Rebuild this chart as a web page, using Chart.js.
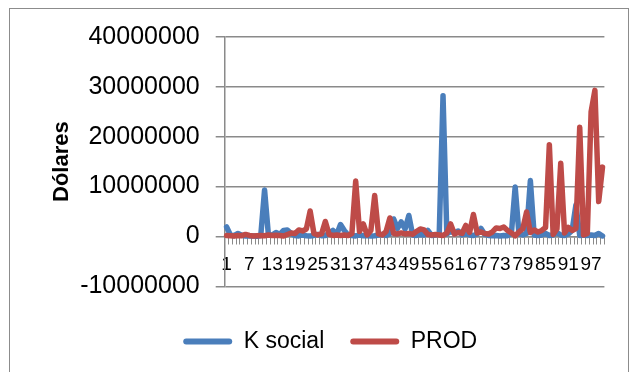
<!DOCTYPE html>
<html>
<head>
<meta charset="utf-8">
<script src="https://cdn.jsdelivr.net/npm/chart.js@4/dist/chart.umd.min.js"></script>
<style>
  html, body { margin: 0; padding: 0; background: #fff; }
  #wrap { position: relative; width: 638px; height: 372px; overflow: hidden; }
  #frame { position: absolute; left: 9px; top: 8px; width: 620px; height: 420px;
           border: 1px solid #8c8c8c; box-sizing: border-box; }
  canvas { position: absolute; left: 0; top: 0; }
</style>
</head>
<body>
<div id="wrap">
  <div id="frame"></div>
  <canvas id="c" width="638" height="372"></canvas>
</div>
<script>
// Observation numbers along the horizontal axis
const categories = [
  1, 2, 3, 4, 5, 6, 7, 8, 9, 10, 11, 12, 13, 14, 15, 16, 17, 18, 19, 20,
  21, 22, 23, 24, 25, 26, 27, 28, 29, 30, 31, 32, 33, 34, 35, 36, 37, 38, 39, 40,
  41, 42, 43, 44, 45, 46, 47, 48, 49, 50, 51, 52, 53, 54, 55, 56, 57, 58, 59, 60,
  61, 62, 63, 64, 65, 66, 67, 68, 69, 70, 71, 72, 73, 74, 75, 76, 77, 78, 79, 80,
  81, 82, 83, 84, 85, 86, 87, 88, 89, 90, 91, 92, 93, 94, 95, 96, 97, 98, 99, 100
];

// Category labels printed under the axis
const tickLabels = [1, 7, 13, 19, 25, 31, 37, 43, 49, 55, 61, 67, 73, 79, 85, 91, 97];

// Value axis ticks (dólares)
const yTicks = [-10000000, 0, 10000000, 20000000, 30000000, 40000000];

// K social, in dólares
const kSocial = [
  1900000, 300000, 150000, 600000, 250000, 100000, 150000, 100000, 50000, 200000,
  9300000, 400000, 300000, 800000, 400000, 1200000, 1300000, 600000, 200000, 100000,
  300000, 150000, 100000, 200000, 400000, 150000, 200000, 600000, 1200000, 400000,
  2400000, 1200000, 300000, 200000, 100000, 300000, 150000, 200000, 100000, 150000,
  300000, 400000, 200000, 600000, 3500000, 1600000, 2900000, 1500000, 4200000, 300000,
  200000, 400000, 300000, 1200000, 200000, 300000, 500000, 28200000, 500000, 1000000,
  700000, 1100000, 300000, 500000, 300000, 200000, 500000, 1600000, 400000, 200000,
  150000, 200000, 100000, 200000, 150000, 600000, 9900000, 500000, 300000, 600000,
  11200000, 300000, 200000, 300000, 600000, 200000, 300000, 800000, 300000, 200000,
  500000, 1200000, 6300000, 200000, 300000, 200000, 300000, 200000, 600000, 100000
];

// PROD, in dólares
const prod = [
  200000, 150000, 100000, 200000, 150000, 400000, 200000, 100000, 150000, 200000,
  150000, 300000, 200000, 250000, 200000, 100000, 400000, 700000, 600000, 1300000,
  1100000, 1500000, 5100000, 600000, 300000, 500000, 3000000, 400000, 200000, 300000,
  200000, 300000, 200000, 600000, 11100000, 1000000, 2500000, 300000, 1200000, 8200000,
  500000, 300000, 1000000, 3700000, 600000, 500000, 700000, 500000, 600000, 400000,
  1000000, 1500000, 1300000, 400000, 300000, 400000, 300000, 200000, 700000, 2500000,
  500000, 800000, 600000, 2200000, 800000, 4400000, 700000, 900000, 600000, 500000,
  900000, 1700000, 1600000, 1900000, 1200000, 700000, 100000, 900000, 1500000, 4900000,
  800000, 1300000, 900000, 1200000, 1800000, 18400000, 400000, 1500000, 14700000, 700000,
  1800000, 1200000, 1600000, 21900000, 300000, 600000, 25000000, 29300000, 7000000, 13900000
];

const AXIS_GRAY = '#8a8a8a';
const SANS = "'Liberation Sans', Arial, sans-serif";

// Shared look of both series: thick straight segments, no markers
const lineStyle = {
  borderWidth: 5.5,
  pointRadius: 0,
  pointHoverRadius: 0,
  tension: 0,
  fill: false,
  borderJoinStyle: 'round',
  borderCapStyle: 'round'
};

new Chart(document.getElementById('c'), {
  type: 'line',
  data: {
    labels: categories,
    datasets: [
      Object.assign({ label: 'K social', data: kSocial,
        borderColor: '#4A7EBB', backgroundColor: '#4A7EBB', order: 1 }, lineStyle),
      Object.assign({ label: 'PROD', data: prod,
        borderColor: '#BE4B48', backgroundColor: '#BE4B48', order: 0 }, lineStyle)
    ]
  },
  options: {
    responsive: false,
    animation: false,
    devicePixelRatio: 1,
    events: [],
    layout: { padding: { left: 56, right: 33.6, top: 37, bottom: 9 } },
    plugins: {
      tooltip: { enabled: false },
      legend: {
        position: 'bottom',
        // blank title only adds vertical room above the legend row
        title: { display: true, text: ' ', font: { size: 1 }, padding: { top: 16.5, bottom: 0 } },
        labels: {
          boxWidth: 49,
          boxHeight: 6,
          padding: 26,
          color: '#000',
          useBorderRadius: true,
          borderRadius: 3,
          font: { family: SANS, size: 23 },
          generateLabels: (chart) => chart.data.datasets.map((ds, i) => ({
            text: ds.label,
            fillStyle: ds.borderColor,
            strokeStyle: ds.borderColor,
            lineWidth: 0,
            borderRadius: 3,
            hidden: false,
            datasetIndex: i,
            fontColor: '#000'
          }))
        }
      }
    },
    scales: {
      x: {
        type: 'category',
        position: { y: 0 },          // category axis crosses the value axis at 0
        offset: true,
        grid: { drawOnChartArea: false, drawTicks: true, tickLength: 7,
                color: AXIS_GRAY, lineWidth: 1, offset: true },
        border: { display: true, color: AXIS_GRAY, width: 1.5 },
        ticks: {
          autoSkip: false, maxRotation: 0, minRotation: 0, padding: 10,
          color: '#000',
          font: { family: SANS, size: 19 },
          callback: function (value) {
            const lab = this.getLabelForValue(value);
            return tickLabels.includes(Number(lab)) ? String(lab) : '';
          }
        }
      },
      y: {
        min: yTicks[0],
        max: yTicks[yTicks.length - 1],
        afterBuildTicks: (scale) => { scale.ticks = yTicks.map(v => ({ value: v })); },
        afterFit: (scale) => { scale.width = 168.7; },
        grid: { color: AXIS_GRAY, lineWidth: 1.5, drawTicks: true, tickLength: 9 },
        border: { display: true, color: AXIS_GRAY, width: 1.5 },
        ticks: {
          padding: 16,
          color: '#000',
          font: { family: SANS, size: 25 },
          callback: (v) => String(v)
        },
        title: {
          display: true,
          text: 'Dólares',
          color: '#000',
          font: { family: SANS, size: 22, weight: 'bold' },
          padding: { top: -7.2, bottom: 0 }
        }
      }
    }
  }
});
</script>
</body>
</html>
